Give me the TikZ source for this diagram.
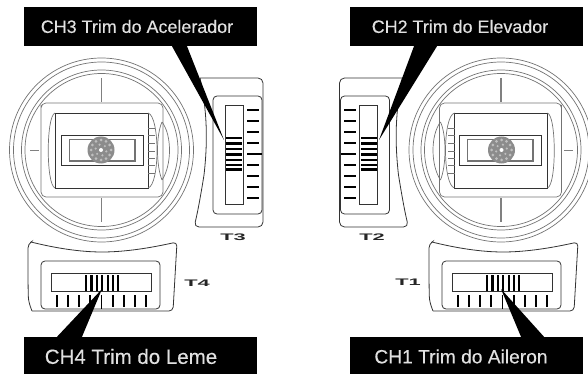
\documentclass[tikz,border=0pt]{standalone}
\usepackage{fontspec}
\setmainfont{Liberation Sans}
\newfontfamily\calloutfont[FakeBold=0.25]{Liberation Sans}
\usetikzlibrary{calc}

\newcommand{\drawstick}{
  \foreach \r in {92,88,80,76.5}
    \draw[thin line] (101.5,150) circle[radius=\r];
  \draw[thin line] (41,110) [rounded corners=5pt] -- (41,103) -- (163,103) -- (163,197) -- (41,197) -- cycle;
  \draw[panel line] (55,113) rectangle (148,188);
  \draw[thin line] (55,113) .. controls (46,116) and (46,185) .. (55,188);
  \draw[thin line] (148,113) .. controls (160,116) and (160,185) .. (148,188);
  \draw[thin line] (162,122) .. controls (172,135) and (172,165) .. (162,180);
  \draw[thin line] (162,122) .. controls (156,135) and (156,165) .. (162,180);
  \foreach \y in {128,135,143,151.5,158,165,173}
    \draw[thin line] (148,\y) -- (155,\y);
  \draw[panel line] (61,135) rectangle (143,165);
  \draw[thin line,line width=1.4pt] (69.5,139.5) rectangle (135,161);
  \draw[tick line] (101.5,78) -- (101.5,102);
  \draw[tick line] (101.5,198) -- (101.5,222);
  \draw[tick line] (30,150.5) -- (39,150.5);
  \fill[black!45] (101,150) circle[radius=13.5];
  \foreach \a in {0,30,...,330}
    \fill[white!75!black] (101,150) ++(\a:10) circle[radius=1.5];
  \foreach \a in {15,75,...,345}
    \fill[white!75!black] (101,150) ++(\a:5.5) circle[radius=1.2];
  \fill[white] (101,150) circle[radius=2];
}
\newcommand{\drawtrimv}{
  \draw[panel line,rounded corners=5pt] (200,78) -- (263,78) -- (263,227) -- (194,227)
    [sharp corners] .. controls (197,215) and (200,200) .. (204,175) .. controls (208,140) and (207,110) .. (200,78);
  \draw[panel line,rounded corners=4pt] (213,96) rectangle (262,214);
  \draw[panel line] (225,105) rectangle (243,204);
  \foreach \y in {138,143.5,149,154.5,160,165,169.5}
    \draw[bar line] (226,\y) -- (242,\y);
  \foreach \y in {110,121,132,143,165,176,187,198}
    \draw[bar line,line width=1.4pt] (247,\y) -- (259,\y);
  \draw[bar line,line width=1.4pt] (247,154) -- (262,154);
}
\newcommand{\drawtrimh}{
  \draw[panel line,rounded corners=4pt] (32,311) -- (173,311) -- (177,242)
    [sharp corners] .. controls (150,248) and (125,252) .. (102,252) .. controls (80,252) and (55,248) .. (31,242)
    [rounded corners=4pt] -- (28,244) .. controls (28,270) and (28,295) .. (29,303) -- (32,311);
  \draw[panel line,rounded corners=4pt] (41,309) -- (41,261) -- (160,261) -- (160,309) -- cycle;
  \draw[panel line] (51,273) rectangle (151,291);
  \foreach \x in {86,91.4,96.8,102.2,107.6,113,118}
    \draw[bar line,line width=2.2pt] (\x,275) -- (\x,291);
  \foreach \x in {57,68,79,90,113,124,135,146}
    \draw[bar line,line width=1.4pt] (\x,295) -- (\x,307);
  \draw[bar line,line width=1.4pt] (101.7,295) -- (101.7,309);
}

\begin{document}
\begin{tikzpicture}[x=1pt,y=-1pt,
    thin line/.style={draw=black!55, line width=0.7pt},
    panel line/.style={draw=black!80, line width=0.8pt},
    tick line/.style={draw=black!50, line width=1.1pt},
    bar line/.style={draw=black, line width=2.4pt},
    callout/.style={rectangle, fill=black, text=white!88!black, minimum width=233pt,
      minimum height=39pt, inner sep=0pt},
    trimname/.style={font=\bfseries\fontsize{9.5}{9.5}\selectfont, text=black!85, inner sep=0pt,
      xscale=2.3, transform shape}]
  \useasboundingbox (0,0) rectangle (588,374);

  % left sticks
  \drawstick
  \drawtrimv
  \drawtrimh

  % right sticks
  \begin{scope}[xshift=602.5pt,xscale=-1]
    \drawstick
    \drawtrimv
  \end{scope}
  \begin{scope}[xshift=401pt]
    \drawtrimh
  \end{scope}

  \node[trimname] (t3) at (233,237) {T3};
  \node[trimname] (t2) at (372,237) {T2};
  \node[trimname] (t4) at (197,283) {T4};
  \node[trimname] (t1) at (408,282) {T1};

  \node[callout,font=\calloutfont\fontsize{17.9}{17.9}\selectfont] (ch3) at (140.5,26.5) {CH3 Trim do Acelerador\hspace*{7pt}};
  \node[callout,font=\calloutfont\fontsize{17.9}{17.9}\selectfont] (ch2) at (466,26.5) {CH2 Trim do Elevador\hspace*{12pt}};
  \node[callout,font=\calloutfont\fontsize{20.5}{20.5}\selectfont] (ch4) at (140.5,356.5) {CH4 Trim do Leme\hspace*{19pt}};
  \node[callout,font=\calloutfont\fontsize{19.2}{19.2}\selectfont] (ch1) at (466,356.5) {CH1 Trim do Aileron\hspace*{10pt}};

  \coordinate (tip3) at (224,140);
  \coordinate (tip2) at (379,140);
  \coordinate (tip4) at (102,289);
  \coordinate (tip1) at (501,289);

  \fill ($(ch3.south)+(31.5,0)$) -- (tip3) -- ($(ch3.south)+(46.5,0)$) -- cycle;
  \fill ($(ch2.south)+(-52,0)$) -- (tip2) -- ($(ch2.south)+(-29,0)$) -- cycle;
  \fill ($(ch4.north)+(-83.5,0)$) -- (tip4) -- ($(ch4.north)+(-58.5,0)$) -- cycle;
  \fill ($(ch1.north)+(55,0)$) -- (tip1) -- ($(ch1.north)+(78,0)$) -- cycle;
\end{tikzpicture}
\end{document}
